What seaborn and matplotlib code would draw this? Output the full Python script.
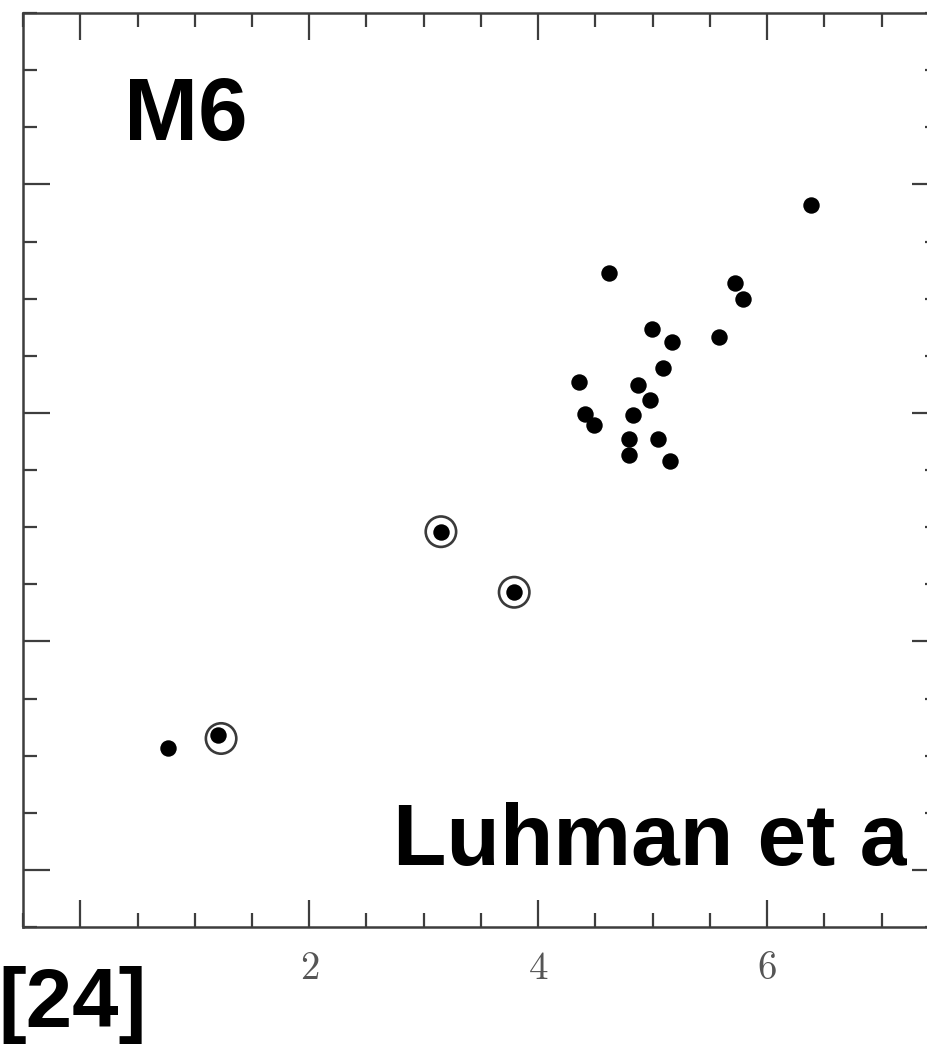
import matplotlib
matplotlib.use("Agg")
import matplotlib.pyplot as plt
import seaborn as sns
import pandas as pd
from matplotlib.ticker import MultipleLocator, FixedLocator, FixedFormatter
from matplotlib.transforms import Bbox

# ---- data ----
dot_x = [0.77, 1.20, 3.15, 3.79, 4.62, 5.72, 5.79, 4.99, 5.17, 5.58, 5.09,
         4.36, 4.87, 4.98, 4.41, 4.49, 4.83, 4.79, 5.05, 4.79, 5.15, 6.38]
dot_y = [1.07, 1.18, 2.96, 2.43, 5.22, 5.14, 5.00, 4.73, 4.62, 4.66, 4.39,
         4.27, 4.24, 4.11, 3.99, 3.89, 3.98, 3.77, 3.77, 3.63, 3.58, 5.82]
ring_x = [1.23, 3.15, 3.79]
ring_y = [1.15, 2.96, 2.43]
x_ticks = [0, 2, 4, 6]
x_tick_labels = ["", "$2$", "$4$", "$6$"]
panel_label = "M6"
source_label = "Luhman et al."
ref_label = "[24]"

sns.set_theme(style="white")
plt.rcParams["mathtext.fontset"] = "cm"
plt.rcParams["font.family"] = ["Liberation Sans", "DejaVu Sans"]

fig = plt.figure(figsize=(9.27, 10.46), dpi=100)
W, H = 927, 1046
left, right, top, bottom = 23, 939, 13, 927
ax = fig.add_axes([left / W, 1 - bottom / H, (right - left) / W, (bottom - top) / H])

dots = pd.DataFrame({"x": dot_x, "y": dot_y})
rings = pd.DataFrame({"x": ring_x, "y": ring_y})

sns.scatterplot(data=rings, x="x", y="y", ax=ax, s=480, color="#3a3a3a",
                linewidth=1.9, legend=False, zorder=2)
ax.collections[-1].set_facecolor("none")
ax.collections[-1].set_edgecolor("#3a3a3a")
sns.scatterplot(data=dots, x="x", y="y", ax=ax, s=140, color="black",
                linewidth=0, legend=False, zorder=3)

ax.set_xlim(-0.5, 7.5)
ax.set_ylim(-0.5, 7.5)
ax.set_xlabel("")
ax.set_ylabel("")

ax.xaxis.set_major_locator(FixedLocator(x_ticks))
ax.xaxis.set_major_formatter(FixedFormatter(x_tick_labels))
ax.xaxis.set_minor_locator(MultipleLocator(0.5))
ax.yaxis.set_major_locator(MultipleLocator(2))
ax.yaxis.set_minor_locator(MultipleLocator(0.5))

spine_c = "#3d3d3d"
for sp in ax.spines.values():
    sp.set_color(spine_c)
    sp.set_linewidth(1.8)
    sp.set_visible(True)

ax.tick_params(which="both", direction="in", top=True, right=True, bottom=True, left=True,
               color=spine_c, width=1.6, labelleft=False)
ax.tick_params(which="major", length=19.5, pad=17, labelsize=28, labelcolor="#555555")
ax.tick_params(which="minor", length=10)

fig.text(124 / W, 1 - 140 / H, panel_label, fontsize=64, fontweight="bold",
         color="black", ha="left", va="baseline")
src = fig.text(393 / W, 1 - 865 / H, source_label, fontsize=63, fontweight="bold",
               color="black", ha="left", va="baseline")
# the reference crop ends just after the "a"
src.set_clip_box(Bbox.from_extents(0, 0, 907, H))
src.set_clip_on(True)
fig.text(-2 / W, 1 - 1027 / H, ref_label, fontsize=60, fontweight="bold",
         color="black", ha="left", va="baseline")

fig.savefig("out.png", dpi=100)
